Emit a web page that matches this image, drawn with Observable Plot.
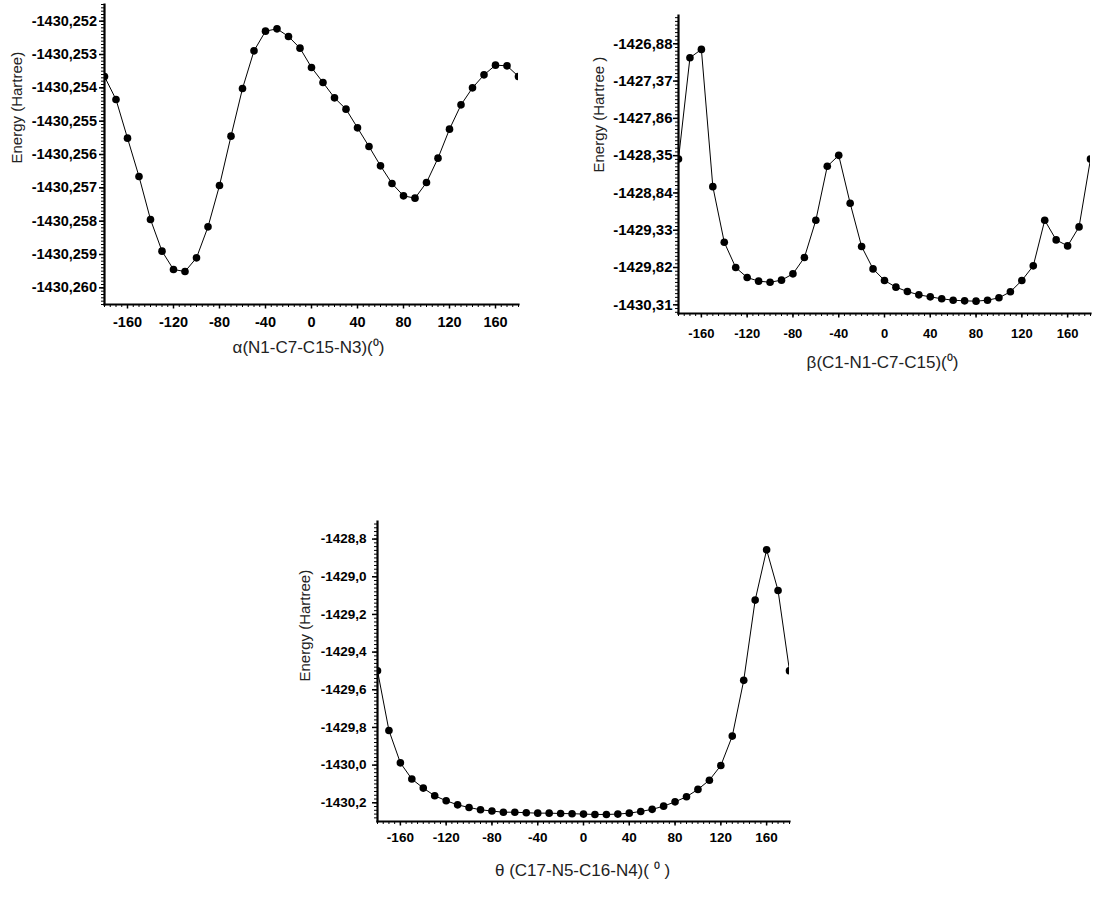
<!DOCTYPE html>
<html><head><meta charset="utf-8">
<script src="https://cdn.jsdelivr.net/npm/d3@7"></script>
<script src="https://cdn.jsdelivr.net/npm/@observablehq/plot@0.6"></script>
<style>
body{margin:0;background:#fff;}
#page{position:relative;width:1094px;height:905px;overflow:hidden;background:#fff;font-family:"Liberation Sans",Arial,sans-serif;}
.panel{position:absolute;}
.panel svg{overflow:visible;}
</style></head><body><div id="page"></div>
<script>
// Dihedral scan angles (degrees)
const angles = [-180,-170,-160,-150,-140,-130,-120,-110,-100,-90,-80,-70,-60,-50,-40,-30,-20,-10,0,10,20,30,40,50,60,70,80,90,100,110,120,130,140,150,160,170,180];

// Energies (Hartree)
const alphaEnergy = [-1430.25366,-1430.25435,-1430.25551,-1430.25666,-1430.25795,-1430.25890,-1430.25945,-1430.25951,-1430.25910,-1430.25817,-1430.25693,-1430.25545,-1430.25402,-1430.25289,-1430.25230,-1430.25223,-1430.25246,-1430.25281,-1430.25339,-1430.25384,-1430.25430,-1430.25464,-1430.25520,-1430.25576,-1430.25634,-1430.25687,-1430.25724,-1430.25731,-1430.25684,-1430.25611,-1430.25524,-1430.25451,-1430.25400,-1430.25361,-1430.25332,-1430.25334,-1430.25366];
const betaEnergy = [-1428.394,-1427.064,-1426.954,-1428.757,-1429.488,-1429.820,-1429.951,-1429.999,-1430.013,-1429.986,-1429.903,-1429.689,-1429.199,-1428.490,-1428.346,-1428.976,-1429.544,-1429.838,-1429.990,-1430.078,-1430.135,-1430.179,-1430.205,-1430.231,-1430.249,-1430.258,-1430.262,-1430.249,-1430.218,-1430.139,-1429.990,-1429.798,-1429.199,-1429.457,-1429.536,-1429.286,-1428.394];
const thetaEnergy = [-1429.499,-1429.816,-1429.988,-1430.074,-1430.122,-1430.163,-1430.189,-1430.211,-1430.225,-1430.237,-1430.244,-1430.250,-1430.250,-1430.253,-1430.255,-1430.255,-1430.257,-1430.258,-1430.260,-1430.262,-1430.262,-1430.260,-1430.255,-1430.246,-1430.235,-1430.218,-1430.195,-1430.168,-1430.129,-1430.080,-1430.002,-1429.846,-1429.550,-1429.124,-1428.857,-1429.073,-1429.499];

// Tick values
const xTicks = [-160,-120,-80,-40,0,40,80,120,160];
const alphaYTicks = [-1430.252,-1430.253,-1430.254,-1430.255,-1430.256,-1430.257,-1430.258,-1430.259,-1430.260];
const betaYTicks = [-1426.88,-1427.37,-1427.86,-1428.35,-1428.84,-1429.33,-1429.82,-1430.31];
const thetaYTicks = [-1428.8,-1429.0,-1429.2,-1429.4,-1429.6,-1429.8,-1430.0,-1430.2];

// Labels
const alphaXLabel = "α(N1-C7-C15-N3)(⁰)";
const betaXLabel = "β(C1-N1-C7-C15)(⁰)";
const thetaXLabel = "θ (C17-N5-C16-N4)( ⁰ )";
const yLabel = "Energy (Hartree)";
const betaYLabel = "Energy (Hartree )";

function minorTicks(lo, hi, step) {
  const out = [];
  const n = Math.round((hi - lo) / step);
  for (let i = 0; i <= n; i++) out.push(+(lo + i * step).toFixed(6));
  return out;
}

function panel(cfg) {
  const data = angles.map((a, i) => ({angle: a, energy: cfg.values[i]}));
  const [y0, y1] = cfg.yDomain;
  const yMinor = minorTicks(Math.min(...cfg.yTicks) - cfg.yStep, Math.max(...cfg.yTicks) + cfg.yStep, cfg.yStep / 10)
    .filter(v => v >= y0 && v <= y1);
  const xMinor = minorTicks(-180, 180, 5);
  const fam = "Liberation Sans, Arial, sans-serif";
  const chart = Plot.plot({
    width: cfg.width, height: cfg.height,
    marginLeft: cfg.ml, marginRight: cfg.mr, marginTop: cfg.mt, marginBottom: cfg.mb,
    style: {fontFamily: fam, background: "transparent", color: "#000"},
    x: {domain: [-180, 180], label: null},
    y: {domain: cfg.yDomain, label: null},
    marks: [
      Plot.axisY(yMinor, {tickSize: 3, tickFormat: () => "", strokeWidth: 1, label: null}),
      Plot.axisY(cfg.yTicks, {tickSize: 5, tickPadding: cfg.yPad, tickFormat: cfg.yFormat, fontSize: cfg.yFs, fontWeight: "bold", strokeWidth: 1.5, label: null}),
      Plot.axisX(xMinor, {tickSize: 3, tickFormat: () => "", strokeWidth: 1, label: null}),
      Plot.axisX(xTicks, {tickSize: 4.5, tickPadding: cfg.xPad, tickFormat: d => String(d), fontSize: cfg.xFs, fontWeight: "bold", strokeWidth: 1.5, label: null}),
      Plot.frame({anchor: "left", strokeWidth: 2.2}),
      Plot.frame({anchor: "bottom", strokeWidth: 2.2}),
      Plot.line(data, {x: "angle", y: "energy", stroke: "#000", strokeWidth: 1, clip: true}),
      Plot.dot(data, {x: "angle", y: "energy", r: 3.8, fill: "#000", clip: true}),
      Plot.text([cfg.yLabel], {frameAnchor: "left", rotate: -90, dx: cfg.yLdx, dy: cfg.yLdy, fontSize: 15, fill: "#222", lineAnchor: "middle"}),
      Plot.text([cfg.xLabel], {frameAnchor: "bottom", dx: cfg.xLdx, dy: cfg.xLdy, fontSize: 17, fill: "#222", lineAnchor: "middle"})
    ]
  });
  const div = document.createElement("div");
  div.className = "panel";
  div.style.left = cfg.left + "px";
  div.style.top = cfg.top + "px";
  div.appendChild(chart);
  document.getElementById("page").appendChild(div);
}

panel({
  left: 0, top: 0, width: 540, height: 370, ml: 104, mr: 22, mt: 4, mb: 66,
  yDomain: [-1430.2605, -1430.2515], yTicks: alphaYTicks, yStep: 0.001,
  yFormat: d => d.toFixed(3).replace(".", ","), yFs: 14.5, xFs: 14.5, yPad: 2.5, xPad: 8,
  values: alphaEnergy, yLabel: yLabel, xLabel: alphaXLabel,
  yLdx: -87, yLdy: 9, xLdx: -3, xLdy: 43
});

panel({
  left: 580, top: 0, width: 514, height: 380, ml: 98, mr: 4, mt: 15, mb: 67,
  yDomain: [-1430.424, -1426.5085], yTicks: betaYTicks, yStep: 0.49,
  yFormat: d => d.toFixed(2).replace(".", ","), yFs: 15, xFs: 13, yPad: 1, xPad: 10.5,
  values: betaEnergy, yLabel: betaYLabel, xLabel: betaXLabel,
  yLdx: -79, yLdy: 8, xLdx: -2, xLdy: 49
});

panel({
  left: 290, top: 500, width: 520, height: 400, ml: 87, mr: 21, mt: 21, mb: 79,
  yDomain: [-1430.2994, -1428.7066], yTicks: thetaYTicks, yStep: 0.2,
  yFormat: d => d.toFixed(1).replace(".", ","), yFs: 13.5, xFs: 13.5, yPad: 6, xPad: 6.5,
  values: thetaEnergy, yLabel: yLabel, xLabel: thetaXLabel,
  yLdx: -72, yLdy: 10, xLdx: -1, xLdy: 49
});
</script>
</body></html>
